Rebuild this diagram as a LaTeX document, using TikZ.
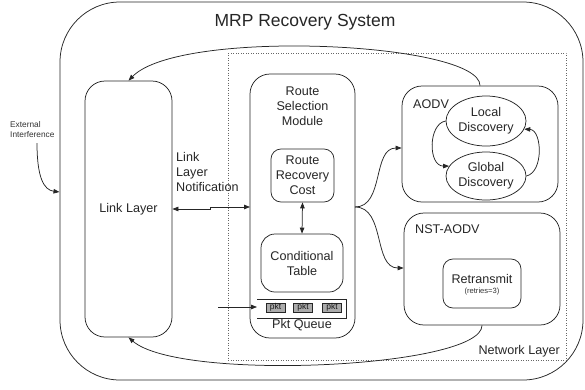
\documentclass[tikz,border=0pt]{standalone}
\usepackage{fontspec}
\setmainfont{Liberation Sans}
\usetikzlibrary{arrows.meta,shapes.geometric}
\begin{document}
\begin{tikzpicture}[x=1pt,y=-1pt,
  ln/.style={draw=black!85, line width=0.75pt},
  rbox/.style={ln, rectangle, inner sep=0pt},
  txt/.style={inner sep=0pt, align=center, text=black!85, font=\fontsize{12.6}{15}\selectfont},
  small/.style={inner sep=0pt, align=left, text=black!80, font=\fontsize{8.3}{10}\selectfont},
  tip/.style={-{Triangle[length=6pt,width=4.5pt]}},
  dtip/.style={{Triangle[length=6pt,width=4.5pt]}-{Triangle[length=6pt,width=4.5pt]}},
  pktbox/.style={draw=black!85, fill=black!33, line width=0.6pt, minimum width=19pt, minimum height=9pt, inner sep=0pt, font=\fontsize{8.5}{9}\selectfont, text=black!90}
]
\useasboundingbox (0,0) rectangle (585,389);

% outer system
\node[rbox, rounded corners=60pt, minimum width=523pt, minimum height=378pt] (sys) at (321.5,191) {};
\node[txt, font=\fontsize{17.5}{20}\selectfont] (title) at (305,22.5) {MRP Recovery System};

% network layer dotted
\node[draw=black!60, dotted, line width=0.5pt, rectangle, inner sep=0pt, minimum width=338pt, minimum height=307pt] (net) at (397,206.5) {};
\node[txt, anchor=east] (netlbl) at (560,351) {Network Layer};

% external interference
\node[small, anchor=west] (ext) at (10,130) {External\\Interference};
\coordinate (extS) at (37,143);
\coordinate (extE) at (59.5,192);
\draw[ln, tip] (extS) .. controls (37,178) and (44,190) .. (extE);

% link layer
\node[rbox, rounded corners=20pt, minimum width=87pt, minimum height=256pt] (ll) at (128.5,209) {};
\node[txt] (lltxt) at (128.5,209) {Link Layer};

% link layer notification
\node[txt, align=left, anchor=west] (lln) at (176,172) {Link\\Layer\\Notification};

% route selection module
\node[rbox, rounded corners=20pt, minimum width=105pt, minimum height=264pt] (rsm) at (302.5,206) {};
\node[txt] (rsmtxt) at (302.5,106) {Route\\Selection\\Module};

\node[rbox, rounded corners=10pt, minimum width=63pt, minimum height=53pt, txt, draw=black!85] (rrc) at (302.5,175.5) {Route\\Recovery\\Cost};
\node[rbox, rounded corners=14pt, minimum width=82pt, minimum height=58pt, txt, draw=black!85] (ct) at (302,263) {Conditional\\Table};
\draw[ln, dtip] (rrc.south) -- (ct.north);

% packet queue
\coordinate (qa) at (257,299);
\coordinate (qb) at (346,299);
\coordinate (qc) at (346,318);
\coordinate (qd) at (257,318);
\draw[ln] (qa) -- (qb) -- (qc) -- (qd);
\node[pktbox] (p1) at (275.5,307.5) {pkt};
\node[pktbox] (p2) at (303,307.5) {pkt};
\node[pktbox] (p3) at (332,307.5) {pkt};
\node[txt] (pq) at (302,325) {Pkt Queue};
\coordinate (qin) at (218,307);
\coordinate (qend) at (257,307);
\draw[ln, tip] (qin) -- (qend);

% link layer <-> RSM
\coordinate (nA) at (210,209);
\coordinate (nB) at (210,207);
\coordinate (nC) at (250,207);
\draw[ln, dtip] (ll.east |- nA) -- (nA) -- (nB) -- (nC);

% AODV
\node[rbox, rounded corners=20pt, minimum width=156pt, minimum height=116pt] (aodv) at (480,144) {};
\node[txt, anchor=west] (aodvlbl) at (413,104) {AODV};
\node[ellipse, ln, minimum width=80pt, minimum height=50pt, inner sep=0pt, txt, draw=black!85] (loc) at (486,121) {Local\\Discovery};
\node[ellipse, ln, minimum width=80pt, minimum height=48pt, inner sep=0pt, txt, draw=black!85] (glob) at (486,176) {Global\\Discovery};
\draw[ln, tip] (loc.west) .. controls (428,124) and (428,166) .. (glob.165);
\draw[ln, tip] (glob.east) .. controls (544,172) and (542,130) .. (loc.-12);

% NST-AODV
\node[rbox, rounded corners=20pt, minimum width=156pt, minimum height=112pt] (nst) at (482,269) {};
\node[txt, anchor=west] (nstlbl) at (415,229) {NST-AODV};
\node[rbox, rounded corners=10pt, minimum width=78pt, minimum height=49pt] (rt) at (482,283.5) {};
\node[txt] (rttxt) at (482,279) {Retransmit};
\node[small, align=center, font=\fontsize{7.6}{9}\selectfont] (rtr) at (482,292) {(retries=3)};

% RSM -> AODV / NST
\coordinate (br) at (355,207);
\draw[ln, tip] (br) to[out=0,in=180] (aodv.west |- 0,148);
\draw[ln, tip] (br) to[out=0,in=180] (nst.west |- 0,268);

% feedback curves
\draw[ln, tip] (aodv.north) .. controls (480,42) and (180,28) .. (ll.north);
\draw[ln, tip] (nst.south) .. controls (482,368) and (180,382) .. (ll.south);
\end{tikzpicture}
\end{document}
